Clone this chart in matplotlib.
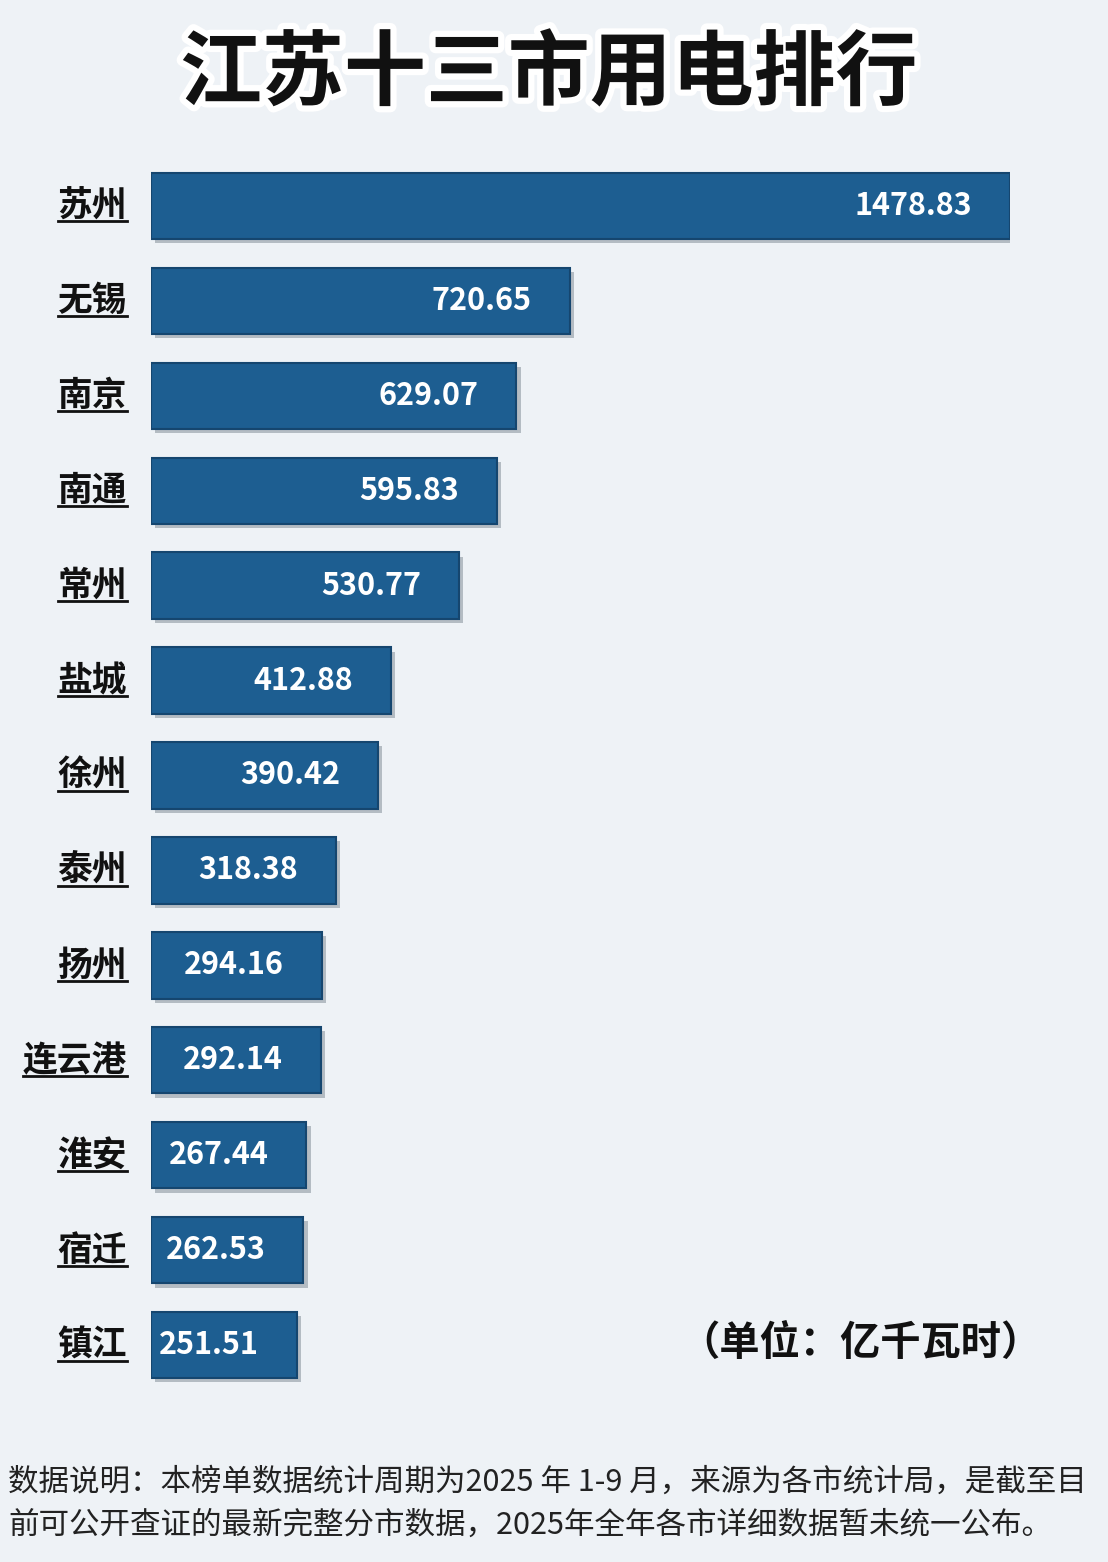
import matplotlib.pyplot as plt
import matplotlib.patheffects as pe
from matplotlib.lines import Line2D

plt.rcParams['font.family'] = ['Noto Sans CJK SC', 'DejaVu Sans']

cities = ["苏州", "无锡", "南京", "南通", "常州", "盐城", "徐州",
          "泰州", "扬州", "连云港", "淮安", "宿迁", "镇江"]
values = [1478.83, 720.65, 629.07, 595.83, 530.77, 412.88, 390.42,
          318.38, 294.16, 292.14, 267.44, 262.53, 251.51]

W, H = 1108, 1562
fig = plt.figure(figsize=(W / 100, H / 100), dpi=100)
fig.patch.set_facecolor("#eef2f6")

ax = fig.add_axes([151 / W, 1 - 1392.5 / H, (1010 - 151) / W, (1392.5 - 158.5) / H])
ax.set_facecolor("none")
ypos = list(range(len(cities)))
ax.barh(ypos, values, height=0.7, color="#1d5e91", edgecolor="#15466f", linewidth=1.5,
        path_effects=[pe.SimplePatchShadow(offset=(3, -3), alpha=0.25), pe.Normal()])
ax.set_xlim(0, values[0])
ax.set_ylim(len(cities) - 0.5, -0.5)
ax.axis("off")

px = values[0] / (1010 - 151)
for y, v in zip(ypos, values):
    ax.text(v - 38 * px, y, f"{v:.2f}", ha="right", va="center", color="white",
            fontsize=22, fontweight="bold")

labels = []
for y, c in zip(ypos, cities):
    t = ax.text(-24 * px, y, c, ha="right", va="center", color="#111111",
                fontsize=25, fontweight="bold")
    labels.append(t)

fig.text(549 / W, 1 - 75 / H, "江苏十三市用电排行", ha="center", va="center",
         fontsize=59, fontweight="black", color="#111111",
         path_effects=[pe.withStroke(linewidth=9, foreground="white")])

fig.text(1042 / W, 1 - 1343 / H, "（单位：亿千瓦时）", ha="right", va="center",
         fontsize=29, fontweight="bold", color="#111111")

fig.text(8 / W, 1 - 1482 / H, "数据说明：本榜单数据统计周期为2025 年 1-9 月，来源为各市统计局，是截至目",
         ha="left", va="center", fontsize=22, color="#222222")
fig.text(8 / W, 1 - 1525 / H, "前可公开查证的最新完整分市数据，2025年全年各市详细数据暂未统一公布。",
         ha="left", va="center", fontsize=22, color="#222222")

# underline city names
fig.canvas.draw()
r = fig.canvas.get_renderer()
for t in labels:
    bb = t.get_window_extent(r)
    yb = (bb.y0 + 2) / H
    fig.add_artist(Line2D([bb.x0 / W, bb.x1 / W], [yb, yb], color="#111111", lw=2))

fig.savefig("out.png", dpi=100, facecolor=fig.get_facecolor())
